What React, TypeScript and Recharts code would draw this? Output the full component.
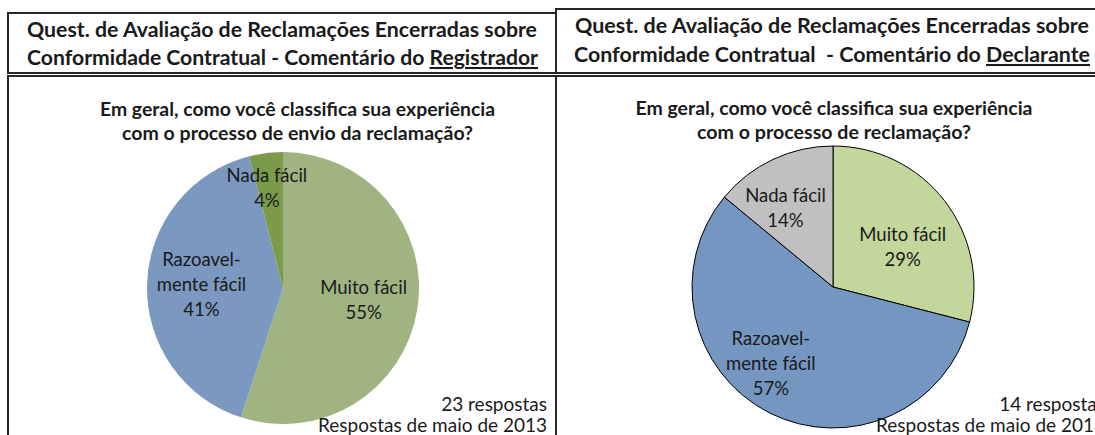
import React from 'react';
import { PieChart, Pie, Cell } from 'recharts';

// ---------- DATA ----------
const categories = ['Muito fácil', 'Razoavelmente fácil', 'Nada fácil'];
const categoryLabelLines = [['Muito fácil'], ['Razoavel-', 'mente fácil'], ['Nada fácil']];
const registradorValues = [55, 41, 4];
const declaranteValues = [29, 57, 14];

const titleLine1 = 'Quest. de Avaliação de Reclamações Encerradas sobre';
const registradorTitleLine2 = ['Conformidade Contratual - Comentário do ', 'Registrador'];
const declaranteTitleLine2 = ['Conformidade Contratual  - Comentário do ', 'Declarante'];
const registradorQuestion = ['Em geral, como você classifica sua experiência', 'com o processo de envio da reclamação?'];
const declaranteQuestion = ['Em geral, como você classifica sua experiência', 'com o processo de reclamação?'];
const registradorResponses = ['23 respostas', 'Respostas de maio de 2013'];
const declaranteResponses = ['14 respostas', 'Respostas de maio de 2013'];

// ---------- STYLE ----------
const FONT = 'Lato, "Open Sans", "DejaVu Sans", sans-serif';
const TEXT = '#1a1a1a';
const BORDER = '#262626';
const registradorColors = ['#A0B482', '#7B98C0', '#7B9B4B'];
const declaranteColors = ['#C3D69B', '#7496C0', '#C0C0C0'];

const buildData = (values: number[]) => categories.map((name, i) => ({ name, value: values[i] }));

const makeLabel = (radiusFactors: number[], angleOffsets: number[]) => (props: any) => {
  const { cx, cy, midAngle, outerRadius, index } = props;
  const value = props.value ?? props.payload?.value;
  const ang = ((midAngle - angleOffsets[index]) * Math.PI) / 180;
  const r = outerRadius * radiusFactors[index];
  const x = cx + r * Math.cos(ang);
  const y = cy - r * Math.sin(ang);
  const lines = [...categoryLabelLines[index], `${value}%`];
  const lh = 25;
  const y0 = y - ((lines.length - 1) * lh) / 2 + 6;
  return (
    <text x={x} y={y0} textAnchor="middle" fontFamily={FONT} fontSize={18.5} fill={TEXT}>
      {lines.map((l, i) => (
        <tspan key={i} x={x} dy={i === 0 ? 0 : lh}>
          {l}
        </tspan>
      ))}
    </text>
  );
};

type PanelPie = {
  left: number;
  values: number[];
  colors: string[];
  cx: number;
  cy: number;
  r: number;
  stroke: string;
  strokeWidth: number;
  radiusFactors: number[];
  angleOffsets: number[];
};

const PiePanel = ({ left, values, colors, cx, cy, r, stroke, strokeWidth, radiusFactors, angleOffsets }: PanelPie) => (
  <div style={{ position: 'absolute', left, top: 76, width: 549, height: 359 }}>
    <PieChart width={549} height={359} margin={{ top: 0, right: 0, bottom: 0, left: 0 }}>
      <Pie
        data={buildData(values)}
        dataKey="value"
        nameKey="name"
        cx={cx}
        cy={cy}
        outerRadius={r}
        startAngle={90}
        endAngle={-270}
        stroke={stroke}
        strokeWidth={strokeWidth}
        isAnimationActive={false}
        labelLine={false}
        label={makeLabel(radiusFactors, angleOffsets)}
      >
        {values.map((_, i) => (
          <Cell key={i} fill={colors[i]} stroke={stroke} strokeWidth={strokeWidth} />
        ))}
      </Pie>
    </PieChart>
  </div>
);

export default function App() {
  return (
    <div style={{ position: 'absolute', left: 0, top: 0, width: 1095, height: 435, overflow: 'hidden', background: '#fff' }}>
      <PiePanel
        left={7}
        values={registradorValues}
        colors={registradorColors}
        cx={276}
        cy={212}
        r={136}
        stroke="none"
        strokeWidth={0}
        radiusFactors={[0.6, 0.6, 0.74]}
        angleOffsets={[0, 0, -2]}
      />
      <PiePanel
        left={556}
        values={declaranteValues}
        colors={declaranteColors}
        cx={277}
        cy={211}
        r={141}
        stroke="#000"
        strokeWidth={1}
        radiusFactors={[0.57, 0.7, 0.65]}
        angleOffsets={[8, 12, -6]}
      />
      <svg width={1095} height={435} style={{ position: 'absolute', left: 0, top: 0, pointerEvents: 'none' }}>
        {/* boxes */}
        <rect x={8} y={13} width={548} height={60} fill="none" stroke={BORDER} strokeWidth={2} />
        <rect x={8} y={76} width={548} height={380} fill="none" stroke={BORDER} strokeWidth={2} />
        <rect x={556} y={9} width={560} height={64} fill="none" stroke={BORDER} strokeWidth={2} />
        <rect x={556} y={76} width={560} height={380} fill="none" stroke={BORDER} strokeWidth={2} />

        {/* titles */}
        <g fontFamily={FONT} fontWeight={700} fontSize={20.5} fill={TEXT}>
          <text x={27} y={37} textLength={510} lengthAdjust="spacingAndGlyphs">{titleLine1}</text>
          <text x={27} y={65} textLength={511} lengthAdjust="spacingAndGlyphs">
            {registradorTitleLine2[0]}
            <tspan style={{ textDecoration: 'underline' }}>{registradorTitleLine2[1]}</tspan>
          </text>
          <text x={575} y={33} textLength={514} lengthAdjust="spacingAndGlyphs">{titleLine1}</text>
          <text x={574} y={62} textLength={516} lengthAdjust="spacingAndGlyphs" style={{ whiteSpace: 'pre' }}>
            {declaranteTitleLine2[0]}
            <tspan style={{ textDecoration: 'underline' }}>{declaranteTitleLine2[1]}</tspan>
          </text>
        </g>

        {/* questions */}
        <g fontFamily={FONT} fontWeight={700} fontSize={18} fill={TEXT} textAnchor="middle">
          <text x={297.5} y={116} textLength={395} lengthAdjust="spacingAndGlyphs">{registradorQuestion[0]}</text>
          <text x={297.5} y={140} textLength={351} lengthAdjust="spacingAndGlyphs">{registradorQuestion[1]}</text>
          <text x={834} y={115} textLength={397} lengthAdjust="spacingAndGlyphs">{declaranteQuestion[0]}</text>
          <text x={834} y={139} textLength={274} lengthAdjust="spacingAndGlyphs">{declaranteQuestion[1]}</text>
        </g>

        {/* responses */}
        <g fontFamily={FONT} fontSize={19} fill={TEXT} textAnchor="end">
          <text x={547} y={411}>{registradorResponses[0]}</text>
          <text x={547} y={432}>{registradorResponses[1]}</text>
          <text x={1105} y={411}>{declaranteResponses[0]}</text>
          <text x={1105} y={432}>{declaranteResponses[1]}</text>
        </g>
      </svg>
    </div>
  );
}
